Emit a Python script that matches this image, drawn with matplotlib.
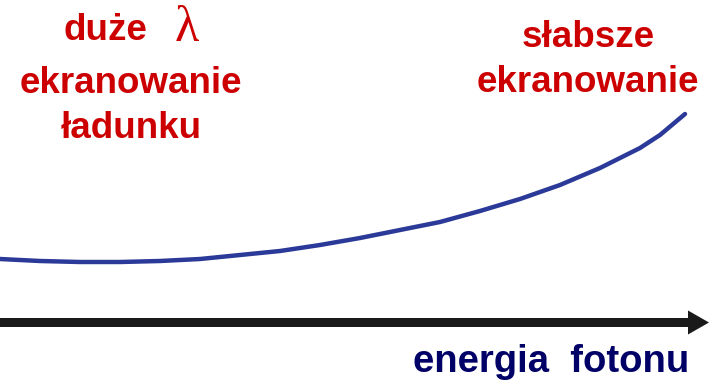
import numpy as np
import matplotlib
matplotlib.use('Agg')
import matplotlib.pyplot as plt

# curve (x = photon energy, y = screening, pixel-like units)
energy = [0, 40, 80, 120, 160, 200, 240, 280, 320, 360, 400, 440, 480,
          520, 560, 600, 640, 660, 685]
value = [129, 127, 126, 126, 127, 129, 133, 137, 143, 150, 158, 166, 177,
         189, 203, 220, 240, 253, 274]

red = '#cc0000'
navy = '#000066'
blue = '#2b3a98'

fig = plt.figure(figsize=(7.09, 3.88), dpi=100)
ax = fig.add_axes([0, 0, 1, 1])
ax.set_xlim(0, 709)
ax.set_ylim(0, 388)
ax.axis('off')

ax.plot(energy, value, '-', color=blue, lw=3.2, solid_capstyle='round',
        solid_joinstyle='round')

# energy axis arrow
ax.arrow(0, 65.5, 709, 0, width=9, head_width=24, head_length=21,
         length_includes_head=True, color='#1a1a1a', lw=0)

font = dict(family='Liberation Sans', weight='bold', fontsize=26.5, color=red,
            ha='center', va='baseline')
ax.text(105, 388 - 40, 'duże', **font)
ax.text(187, 388 - 41, 'λ', family='Liberation Serif', fontsize=36, color=red,
        ha='center', va='baseline')
ax.text(131, 388 - 93, 'ekranowanie', **font)
ax.text(131, 388 - 138, 'ładunku', **font)
ax.text(588, 388 - 47, 'słabsze', **font)
ax.text(588, 388 - 92, 'ekranowanie', **font)

ax.text(551, 388 - 372, 'energia  fotonu', family='Liberation Sans', weight='bold',
        fontsize=27.5, color=navy, ha='center', va='baseline')

fig.savefig('out.png', dpi=100)
